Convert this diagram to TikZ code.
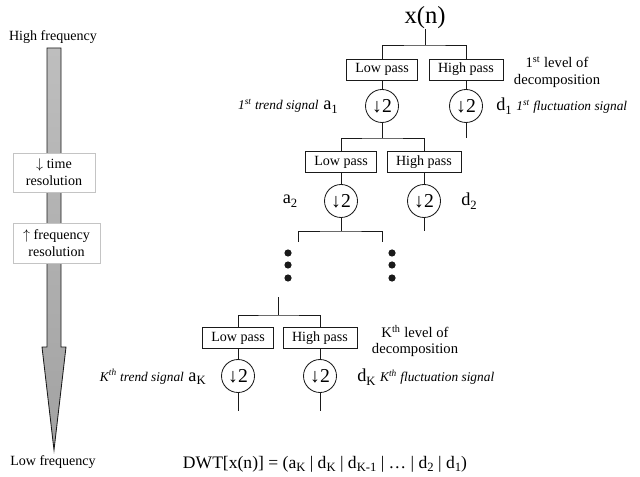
\documentclass[tikz,border=0pt]{standalone}
\usepackage{fontspec}
\setmainfont{Liberation Serif}
\usepackage{xcolor}
\definecolor{cInk}{HTML}{1A1A1A}
\definecolor{cShaft}{HTML}{BEBEBE}
\definecolor{cHead}{HTML}{A2A2A2}
\definecolor{cFrame}{HTML}{C4C4C4}
\usepackage{tikz}
\usetikzlibrary{positioning,calc}
\newcommand{\lowidx}[1]{\raisebox{-0.45ex}{\fontsize{9}{10}\selectfont #1}}
\tikzset{
  node-filter/.style={draw=cInk,line width=0.6pt,minimum height=5.25mm,
    inner xsep=6.4pt,inner ysep=0pt,font=\fontsize{10}{12}\selectfont},
  node-down/.style={draw=cInk,line width=0.6pt,circle,minimum size=8.25mm,
    inner sep=0pt,font=\fontsize{14}{16}\selectfont},
  node-sig/.style={inner sep=0pt,font=\fontsize{13}{15}\selectfont},
  node-level/.style={align=center,inner sep=0pt,font=\fontsize{10.4}{12}\selectfont},
  node-res/.style={draw=cFrame,line width=0.6pt,fill=white,align=center,
    inner sep=0pt,font=\fontsize{10}{12}\selectfont},
  node-tag/.style={inner sep=0pt,font=\fontsize{10}{12}\selectfont},
  wire/.style={draw=cInk,line width=0.6pt},
}

\begin{document}
\begin{tikzpicture}[x=0.25mm,y=-0.25mm]
  \useasboundingbox (0,0) rectangle (640,477);

  % frequency axis on the left
  \shade[top color=cShaft,bottom color=cHead,draw=cInk,line width=0.6pt]
    (47,48) -- (61,48) -- (61,347) -- (66,347) -- (54,450) -- (42,347)
    -- (47,347) -- cycle;
  \node[node-tag] (high) at (53,37) {High frequency};
  \node[node-tag] (low) at (53,462) {Low frequency};
  \node[node-res,minimum width=20.5mm,minimum height=9.75mm] (res-time)
    at (54,172.5) {$\downarrow$ time\\resolution};
  \node[node-res,minimum width=21.75mm,minimum height=10mm] (res-freq)
    at (56.5,243) {$\uparrow$ frequency\\resolution};

  % level 1
  \node[inner sep=0pt,font=\fontsize{17.5}{20}\selectfont] (xn) at (425,18) {x(n)};
  \coordinate (fork1) at (425,45);
  \node[node-filter] (lp1) at (382,69.5) {Low pass};
  \node[node-filter] (hp1) at (466,69.5) {High pass};
  \node[node-down] (dl1) at (382,106) {↓2};
  \node[node-down] (dh1) at (466,106) {↓2};
  \coordinate (fork2) at (382,138);
  \coordinate (end1) at (466,138);
  \draw[wire] (xn) -- (fork1);
  \draw[wire] (lp1.north) |- (fork1) -| (hp1.north);
  \draw[wire] (lp1) -- (dl1) -- (fork2);
  \draw[wire] (hp1) -- (dh1) -- (end1);
  \node[node-level] (lev1) at (557,72) {1\textsuperscript{st} level of\\decomposition};
  \node[node-sig,anchor=east] (a1) at (338,106)
    {{\fontsize{9.5}{11}\selectfont\itshape 1\textsuperscript{st} trend signal}\ a\lowidx{1}};
  \node[node-sig,anchor=west] (d1) at (496,106)
    {d\lowidx{1}\ {\fontsize{9.5}{11}\selectfont\itshape 1\textsuperscript{st} fluctuation signal}};

  % level 2
  \node[node-filter] (lp2) at (341,162) {Low pass};
  \node[node-filter] (hp2) at (424,162) {High pass};
  \node[node-down] (dl2) at (341,201) {↓2};
  \node[node-down] (dh2) at (424,201) {↓2};
  \coordinate (fork3) at (341,231);
  \coordinate (end2) at (424,231);
  \coordinate (tick-l) at (298,242);
  \coordinate (tick-r) at (382,242);
  \draw[wire] (lp2.north) |- (fork2) -| (hp2.north);
  \draw[wire] (lp2) -- (dl2) -- (fork3);
  \draw[wire] (hp2) -- (dh2) -- (end2);
  \draw[wire] (tick-l) |- (fork3) -| (tick-r);
  \node[node-sig] (a2) at (290,201) {a\lowidx{2}};
  \node[node-sig] (d2) at (469,201) {d\lowidx{2}};

  % skipped levels
  \foreach \y in {253,265,278} {
    \fill[cInk] (288,\y) circle (3.6);
    \fill[cInk] (392,\y) circle (3.6);
  }

  % level K
  \coordinate (stemK) at (278,297);
  \coordinate (forkK) at (278,315);
  \node[node-filter] (lpK) at (238,338) {Low pass};
  \node[node-filter] (hpK) at (320,338) {High pass};
  \node[node-down] (dlK) at (238,376) {↓2};
  \node[node-down] (dhK) at (320,376) {↓2};
  \coordinate (endKl) at (238,411);
  \coordinate (endKh) at (320,411);
  \draw[wire] (stemK) -- (forkK);
  \draw[wire] (lpK.north) |- (forkK) -| (hpK.north);
  \draw[wire] (lpK) -- (dlK) -- (endKl);
  \draw[wire] (hpK) -- (dhK) -- (endKh);
  \node[node-level] (levK) at (415,341) {K\textsuperscript{th} level of\\decomposition};
  \node[node-sig,anchor=east] (aK) at (206,377)
    {{\fontsize{9.5}{11}\selectfont\itshape K\textsuperscript{th} trend signal}\ a\lowidx{K}};
  \node[node-sig,anchor=west] (dK) at (357,377)
    {d\lowidx{K}\ {\fontsize{9.5}{11}\selectfont\itshape K\textsuperscript{th} fluctuation signal}};

  % result
  \node[node-sig,font=\fontsize{12.5}{14}\selectfont] (dwt) at (325,464)
    {DWT[x(n)] = (a\lowidx{K} | d\lowidx{K} | d\lowidx{K-1} | … | d\lowidx{2} | d\lowidx{1})};
\end{tikzpicture}
\end{document}
